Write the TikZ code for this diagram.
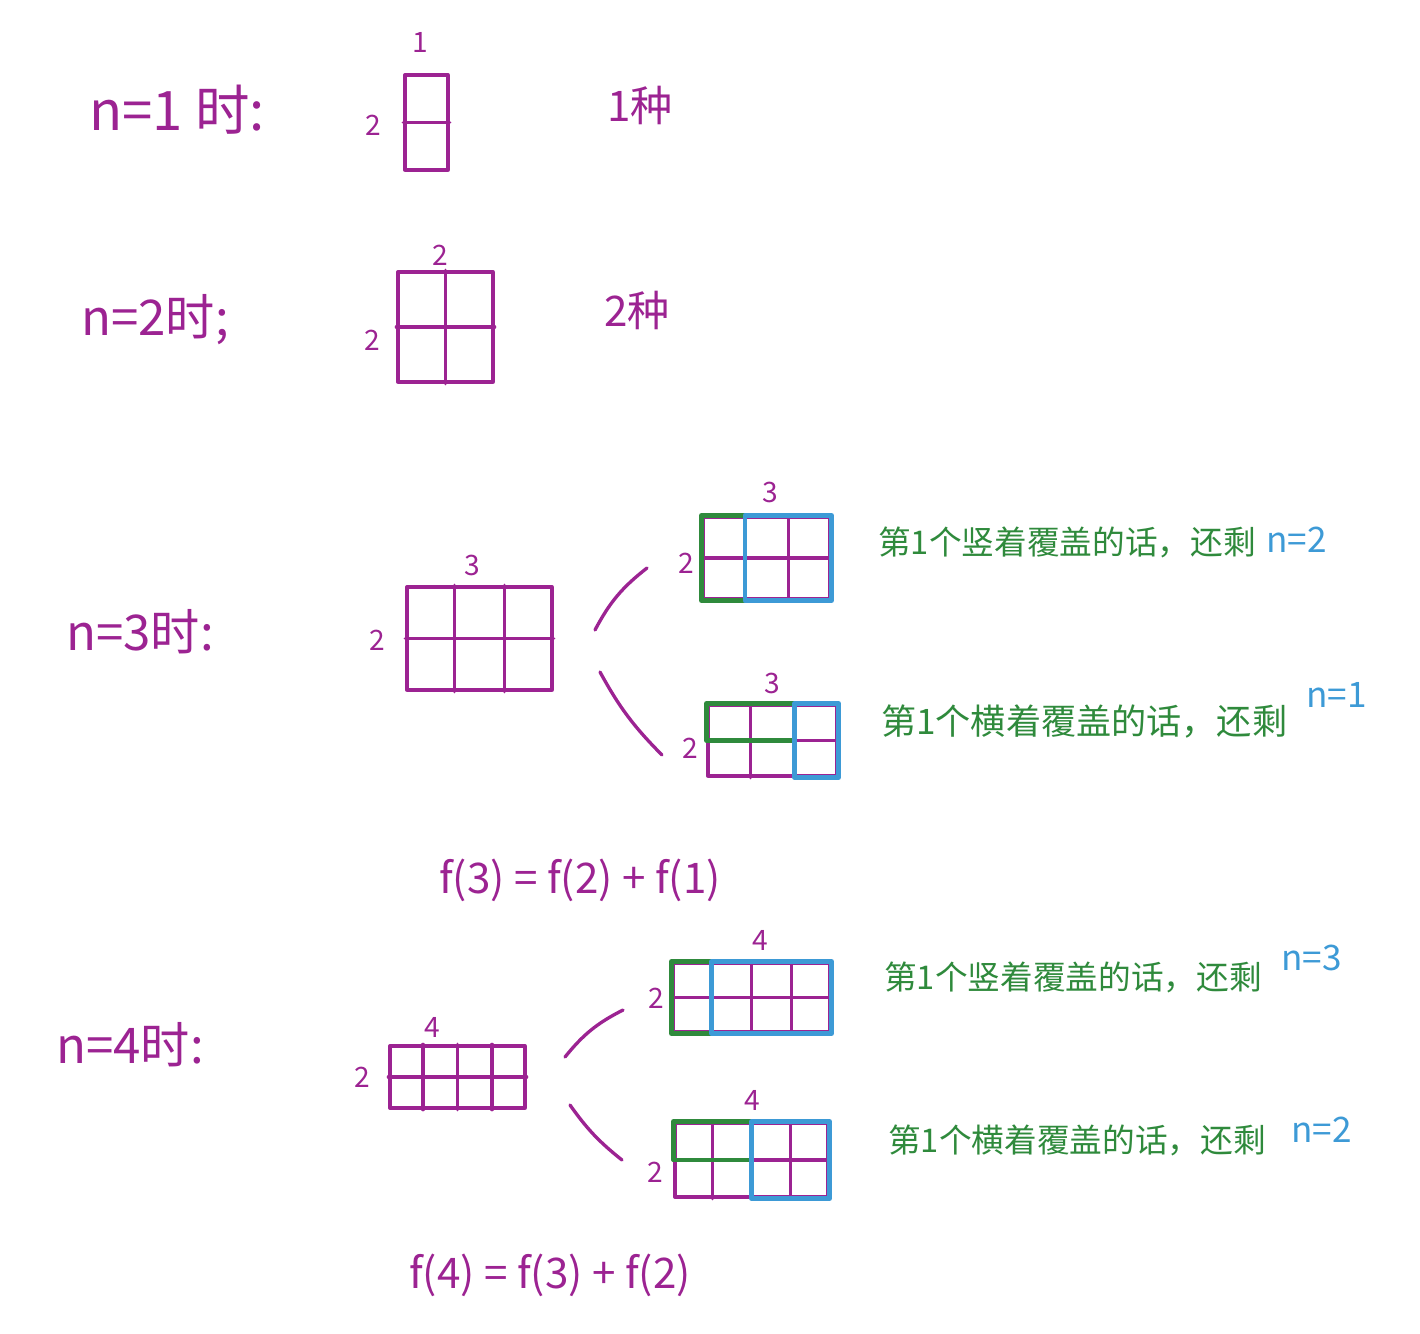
\documentclass[tikz,border=0pt]{standalone}
\usepackage{fontspec}
\newfontfamily\cjk{Noto Sans CJK SC}
\usepackage{tikz}
\usetikzlibrary{calc}

\definecolor{inkpurple}{HTML}{9C2392}
\definecolor{inkgreen}{HTML}{2F8A3C}
\definecolor{inkblue}{HTML}{3D9AD6}

% midline and column lines of a grid node
\newcommand{\gridlines}[2]{%
  \draw[gridline] (#1.west) -- (#1.east);
  \ifnum#2>1
    \pgfmathtruncatemacro{\lastcol}{#2-1}
    \foreach \k in {1,...,\lastcol}
      \draw[gridline] ($(#1.north west)!\k/#2!(#1.north east)$) -- ($(#1.south west)!\k/#2!(#1.south east)$);
  \fi}

\begin{document}
\begin{tikzpicture}[
    x=0.02cm, y=-0.02cm,
    line cap=round, line join=round,
    cellgrid/.style = {draw=inkpurple, line width=1.9pt, inner sep=0pt},
    gridline/.style = {draw=inkpurple, line width=1.9pt},
    greenbox/.style = {draw=inkgreen, line width=2.5pt},
    bluebox/.style = {draw=inkblue, line width=2.5pt},
    dimlabel/.style = {text=inkpurple, font=\cjk\fontsize{16}{18}\selectfont},
    casetext/.style = {text=inkpurple, font=\cjk\fontsize{28}{32}\selectfont},
    counttext/.style = {text=inkpurple, font=\cjk\fontsize{24}{28}\selectfont},
    reasontext/.style = {text=inkgreen, anchor=west, font=\cjk\fontsize{18.6}{22}\selectfont},
    resttext/.style = {text=inkblue, anchor=west, font=\cjk\fontsize{20}{24}\selectfont},
    formula/.style = {text=inkpurple, font=\cjk\fontsize{24}{28}\selectfont}
    ]
    \useasboundingbox (0,0) rectangle (1420,1333);

    % n = 1
    \node[casetext, font=\cjk\fontsize{31}{34}\selectfont] (n1) at (177,110) {n=1 时:};
    \node[cellgrid, minimum width=0.86cm, minimum height=1.9cm] (g1) at (426.5,122.5) {};
    \gridlines{g1}{1}
    \node[dimlabel] (g1top) at (420,42) {1};
    \node[dimlabel] (g1side) at (373,125) {2};
    \node[counttext] (c1) at (640,105) {1种};

    % n = 2
    \node[casetext] (n2) at (155,320) {n=2时;};
    \node[cellgrid, minimum width=1.9cm, minimum height=2.2cm] (g2) at (445.5,327) {};
    \gridlines{g2}{2}
    \node[dimlabel] (g2top) at (440,255) {2};
    \node[dimlabel] (g2side) at (372,340) {2};
    \node[counttext] (c2) at (637,310) {2种};

    % n = 3
    \node[casetext] (n3) at (140,632) {n=3时:};
    \node[cellgrid, minimum width=2.9cm, minimum height=2.06cm] (m3) at (479.5,638.5) {};
    \gridlines{m3}{3}
    \node[dimlabel] (m3top) at (472,565) {3};
    \node[dimlabel] (m3side) at (377,640) {2};

    \node[cellgrid, minimum width=2.54cm, minimum height=1.64cm] (a3) at (766.5,558) {};
    \gridlines{a3}{3}
    \draw[greenbox] (a3.north west) rectangle ($(a3.south west)!1/3!(a3.south east)$);
    \draw[bluebox] ($(a3.north west)!1/3!(a3.north east)$) rectangle (a3.south east);
    \node[dimlabel] (a3top) at (770,492) {3};
    \node[dimlabel] (a3side) at (686,563) {2};
    \node[reasontext] (r3a) at (872,542) {第1个竖着覆盖的话，还剩};
    \node[resttext] (s3a) at (1260,540) {n=2};

    \node[cellgrid, minimum width=2.58cm, minimum height=1.42cm] (b3) at (772.5,740.5) {};
    \gridlines{b3}{3}
    \draw[greenbox] (b3.north west) rectangle ($(b3.west)!2/3!(b3.east)$);
    \draw[bluebox] ($(b3.north west)!2/3!(b3.north east)$) rectangle (b3.south east);
    \node[dimlabel] (b3top) at (772,683) {3};
    \node[dimlabel] (b3side) at (690,748) {2};
    \node[reasontext, font=\cjk\fontsize{20}{24}\selectfont] (r3b) at (875,722) {第1个横着覆盖的话，还剩};
    \node[resttext] (s3b) at (1300,695) {n=1};

    \coordinate (p3a) at (595,630);
    \coordinate (q3a) at (647,568);
    \coordinate (p3b) at (600,672);
    \coordinate (q3b) at (662,755);
    \draw[gridline] (p3a) to[bend left=12] (q3a);
    \draw[gridline] (p3b) to[bend right=8] (q3b);

    \node[formula] (f3) at (580,880) {f(3) = f(2) + f(1)};

    % n = 4
    \node[casetext] (n4) at (130,1045) {n=4时:};
    \node[cellgrid, minimum width=2.7cm, minimum height=1.24cm] (m4) at (457.5,1077) {};
    \gridlines{m4}{4}
    \node[dimlabel] (m4top) at (432,1027) {4};
    \node[dimlabel] (m4side) at (362,1077) {2};

    \node[cellgrid, minimum width=3.14cm, minimum height=1.38cm] (a4) at (751.5,997.5) {};
    \gridlines{a4}{4}
    \draw[greenbox] (a4.north west) rectangle ($(a4.south west)!1/4!(a4.south east)$);
    \draw[bluebox] ($(a4.north west)!1/4!(a4.north east)$) rectangle (a4.south east);
    \node[dimlabel] (a4top) at (760,940) {4};
    \node[dimlabel] (a4side) at (656,998) {2};
    \node[reasontext] (r4a) at (878,977) {第1个竖着覆盖的话，还剩};
    \node[resttext] (s4a) at (1275,958) {n=3};

    \node[cellgrid, minimum width=3.06cm, minimum height=1.48cm] (b4) at (751.5,1160) {};
    \gridlines{b4}{4}
    \draw[greenbox] (b4.north west) rectangle ($(b4.west)!1/2!(b4.east)$);
    \draw[bluebox] ($(b4.north west)!1/2!(b4.north east)$) rectangle (b4.south east);
    \node[dimlabel] (b4top) at (752,1100) {4};
    \node[dimlabel] (b4side) at (655,1172) {2};
    \node[reasontext] (r4b) at (882,1140) {第1个横着覆盖的话，还剩};
    \node[resttext] (s4b) at (1285,1130) {n=2};

    \coordinate (p4a) at (565,1057);
    \coordinate (q4a) at (623,1010);
    \coordinate (p4b) at (570,1105);
    \coordinate (q4b) at (622,1160);
    \draw[gridline] (p4a) to[bend left=12] (q4a);
    \draw[gridline] (p4b) to[bend right=8] (q4b);

    \node[formula] (f4) at (550,1275) {f(4) = f(3) + f(2)};
\end{tikzpicture}
\end{document}
